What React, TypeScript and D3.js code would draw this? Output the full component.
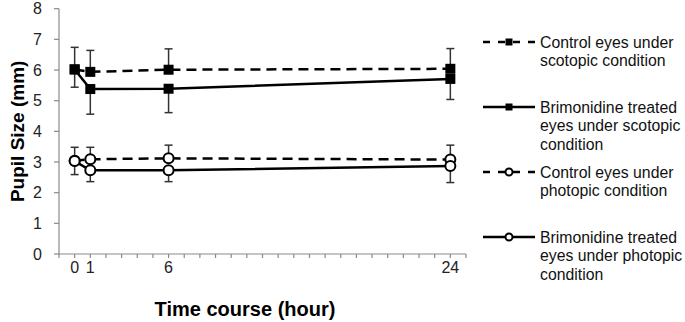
import React from "react";
import * as d3 from "d3";

const hours = [0, 1, 6, 24];
const xTickLabels = [0, 1, 6, 24];
const yTicks = [0, 1, 2, 3, 4, 5, 6, 7, 8];

const controlScotopic = [6.02, 5.94, 6.01, 6.04];
const controlScotopicErr = [0.72, 0.7, 0.68, 0.66];
const brimScotopic = [6.02, 5.38, 5.39, 5.71];
const brimScotopicErr = [0.58, 0.82, 0.78, 0.67];

const controlPhotopic = [3.04, 3.09, 3.12, 3.08];
const controlPhotopicErr = [0.44, 0.39, 0.43, 0.47];
const brimPhotopic = [3.03, 2.73, 2.73, 2.87];
const brimPhotopicErr = [0.44, 0.37, 0.37, 0.54];

const legendLabels = [
  ["Control eyes under", "scotopic condition"],
  ["Brimonidine treated", "eyes under scotopic", "condition"],
  ["Control eyes under", "photopic condition"],
  ["Brimonidine treated", "eyes under photopic", "condition"],
];

const W = 685;
const H = 322;

export default function App() {
  const x = d3.scaleLinear().domain([-1, 25]).range([59, 466]);
  const y = d3.scaleLinear().domain([0, 8]).range([254, 8.7]);
  const minor = d3.range(-1, 26, 1);

  const series = [
    { vals: controlScotopic, err: controlScotopicErr, up: true, dashed: true, marker: "square" },
    { vals: brimScotopic, err: brimScotopicErr, up: false, dashed: false, marker: "square" },
    { vals: controlPhotopic, err: controlPhotopicErr, up: true, dashed: true, marker: "circle" },
    { vals: brimPhotopic, err: brimPhotopicErr, up: false, dashed: false, marker: "circle" },
  ];

  const line = d3
    .line<number>()
    .x((_, i) => x(hours[i]))
    .y((d) => y(d));

  const drawMarker = (kind: string, cx: number, cy: number, s: number, key: string) =>
    kind === "square" ? (
      <rect key={key} x={cx - s / 2} y={cy - s / 2} width={s} height={s} fill="#000" />
    ) : (
      <circle key={key} cx={cx} cy={cy} r={s / 2} fill="#fff" stroke="#000" strokeWidth={2} />
    );

  const legendStarts = [42, 107, 172, 237];

  return (
    <div style={{ position: "absolute", left: 0, top: 0 }}>
      <svg width={W} height={H} style={{ fontFamily: "Liberation Sans, Arial, sans-serif" }}>
        <rect width={W} height={H} fill="#fff" />

        {/* axes */}
        <line x1={x(-1)} x2={x(-1)} y1={y(8)} y2={y(0)} stroke="#8a8a8a" strokeWidth={1.2} />
        <line x1={x(-1)} x2={x(25)} y1={y(0)} y2={y(0)} stroke="#8a8a8a" strokeWidth={1.2} />
        {yTicks.map((t) => (
          <g key={"y" + t}>
            <line x1={x(-1) - 5} x2={x(-1)} y1={y(t)} y2={y(t)} stroke="#8a8a8a" strokeWidth={1.2} />
            <text x={42} y={y(t)} dy="0.36em" textAnchor="end" fontSize={16} fill="#222">
              {t}
            </text>
          </g>
        ))}
        {minor.map((t) => (
          <line key={"m" + t} x1={x(t)} x2={x(t)} y1={y(0)} y2={y(0) + 4} stroke="#8a8a8a" strokeWidth={1.2} />
        ))}
        {xTickLabels.map((t) => (
          <text key={"x" + t} x={x(t)} y={273} textAnchor="middle" fontSize={16} fill="#222">
            {t}
          </text>
        ))}

        {/* error bars: controls upward, brimonidine downward */}
        {series.map((s, si) =>
          s.vals.map((v, i) => {
            const cx = x(hours[i]);
            const y2 = s.up ? y(v + s.err[i]) : y(v - s.err[i]);
            return (
              <g key={`e${si}-${i}`} stroke="#333" strokeWidth={1.5}>
                <line x1={cx} x2={cx} y1={y(v)} y2={y2} />
                <line x1={cx - 4} x2={cx + 4} y1={y2} y2={y2} />
              </g>
            );
          })
        )}

        {/* lines */}
        {series.map((s, si) => (
          <path
            key={"l" + si}
            d={line(s.vals) || ""}
            fill="none"
            stroke="#000"
            strokeWidth={2.5}
            strokeDasharray={s.dashed ? "10,6" : undefined}
          />
        ))}

        {/* markers */}
        {series.map((s, si) =>
          s.vals.map((v, i) => drawMarker(s.marker, x(hours[i]), y(v), 10, `p${si}-${i}`))
        )}

        {/* legend */}
        {series.map((s, si) => {
          const ly = legendStarts[si];
          return (
            <g key={"lg" + si}>
              <line
                x1={483}
                x2={535}
                y1={ly}
                y2={ly}
                stroke="#000"
                strokeWidth={2.5}
                strokeDasharray={s.dashed ? "7,8" : undefined}
              />
              {drawMarker(s.marker, 509, ly, 7, `lm${si}`)}
              {legendLabels[si].map((t, li) => (
                <text key={li} x={540} y={ly + li * 18.7} dy="0.35em" fontSize={15.8} fill="#111">
                  {t}
                </text>
              ))}
            </g>
          );
        })}

        {/* axis titles */}
        <text
          transform={`translate(17,${(y(0) + y(8)) / 2}) rotate(-90)`}
          textAnchor="middle"
          dy="0.36em"
          fontSize={19}
          fontWeight="bold"
          fill="#000"
        >
          Pupil Size (mm)
        </text>
        <text x={245} y={309} dy="0.36em" textAnchor="middle" fontSize={20} fontWeight="bold" fill="#000">
          Time course (hour)
        </text>
      </svg>
    </div>
  );
}
